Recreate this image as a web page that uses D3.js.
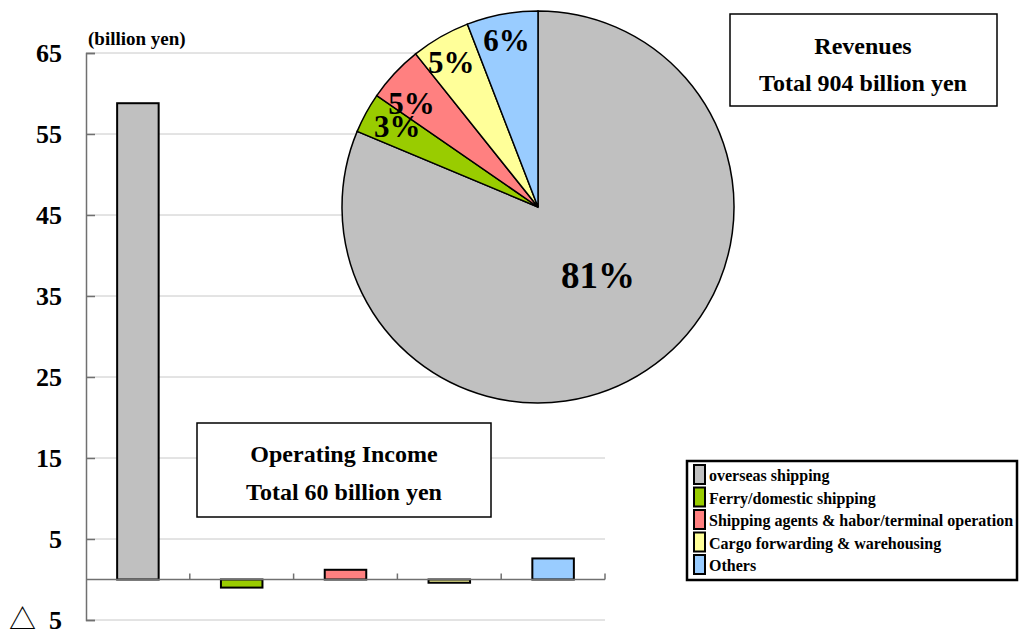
<!DOCTYPE html>
<html><head><meta charset="utf-8">
<script src="https://cdn.jsdelivr.net/npm/d3@7"></script>
<style>body{margin:0;background:#fff}svg{display:block}</style>
</head><body><svg id="c" width="1020" height="636" font-family="'Liberation Serif', 'Times New Roman', Times, 'DejaVu Serif', serif" font-weight="bold"></svg>
<script>
const categories = ["overseas shipping","Ferry/domestic shipping","Shipping agents & habor/terminal operation","Cargo forwarding & warehousing","Others"];
const colors = ["#c0c0c0","#99cc00","#ff8080","#ffff99","#99ccff"];
const operatingIncome = [58.8, -1.0, 1.2, -0.4, 2.6];
const revenues = [735, 30, 42, 44, 53];
const yTicks = [-5, 5, 15, 25, 35, 45, 55, 65];
const unitLabel = "(billion yen)";
const revTitle = ["Revenues", "Total 904 billion yen"];
const oiTitle = ["Operating Income", "Total 60 billion yen"];

const svg = d3.select("#c");
const x = d3.scaleBand().domain(categories).range([86, 605]).paddingInner(0.6).paddingOuter(0.3);
const xb = d3.scaleBand().domain(categories).range([86, 605]);
const y = d3.scaleLinear().domain([-5, 65]).range([620, 53]);

// grid
svg.append("g").selectAll("line").data(yTicks).join("line")
  .attr("x1", 86).attr("x2", 605).attr("y1", d => y(d)).attr("y2", d => y(d))
  .attr("stroke", "#c8c8c8").attr("stroke-width", 1);

// y axis
const yAxis = d3.axisRight(y).tickValues(yTicks).tickSize(9).tickFormat("");
const ga = svg.append("g").attr("transform", "translate(86,0)").call(yAxis);
ga.select(".domain").attr("stroke", "#707070").attr("stroke-width", 1.5);
ga.selectAll(".tick line").attr("stroke", "#707070").attr("stroke-width", 1.5);
const yl = svg.append("g").selectAll("text").data(yTicks).join("text")
  .attr("x", 62).attr("y", d => y(d) + 9).attr("text-anchor", "end")
  .attr("font-size", 26);
yl.filter(d => d < 0).append("tspan").attr("font-family", "'Noto Sans CJK JP', 'DejaVu Sans', sans-serif")
  .attr("font-weight", "normal").attr("font-size", 27).text("\u25B3");
yl.append("tspan").text(d => d < 0 ? "\u00A0\u00A0" + Math.abs(d) : d);

svg.append("text").attr("x", 88).attr("y", 45).attr("font-size", 19).text(unitLabel);

// bars
svg.append("g").selectAll("rect").data(operatingIncome).join("rect")
  .attr("x", (d, i) => x(categories[i])).attr("width", x.bandwidth())
  .attr("y", d => y(Math.max(0, d))).attr("height", d => Math.abs(y(d) - y(0)))
  .attr("fill", (d, i) => colors[i]).attr("stroke", "#000").attr("stroke-width", 2);

// zero axis
svg.append("line").attr("x1", 86).attr("x2", 605).attr("y1", y(0)).attr("y2", y(0))
  .attr("stroke", "#707070").attr("stroke-width", 1.5);
svg.append("g").selectAll("line").data(categories).join("line")
  .attr("x1", d => xb(d) + xb.bandwidth()).attr("x2", d => xb(d) + xb.bandwidth())
  .attr("y1", y(0)).attr("y2", y(0) - 6).attr("stroke", "#707070").attr("stroke-width", 1.5);

// operating income box
const ob = svg.append("g");
ob.append("rect").attr("x", 197).attr("y", 423).attr("width", 294).attr("height", 94)
  .attr("fill", "#fff").attr("stroke", "#000").attr("stroke-width", 1.5);
ob.selectAll("text").data(oiTitle).join("text").attr("x", 344).attr("y", (d, i) => 462 + i * 38)
  .attr("text-anchor", "middle").attr("font-size", 24).text(d => d);

// pie
const cx = 538, cy = 207, R = 196;
const pie = d3.pie().sort(null).value(d => d)(revenues);
const arc = d3.arc().innerRadius(0).outerRadius(R);
const pg = svg.append("g").attr("transform", `translate(${cx},${cy})`);
pg.selectAll("path").data(pie).join("path").attr("d", arc)
  .attr("fill", (d, i) => colors[i]).attr("stroke", "#000").attr("stroke-width", 1.5);
const total = d3.sum(revenues);
const lblArc = d3.arc().innerRadius(166).outerRadius(166);
const bigArc = d3.arc().innerRadius(92).outerRadius(92);
const nudge = [[9, -8], [5, 0], [-5, 10], [-4, 0], [-1, -3]];
pg.selectAll("text").data(pie).join("text")
  .attr("transform", (d, i) => {
    const c = (i === 0 ? bigArc : lblArc).centroid(d);
    return `translate(${c[0] + nudge[i][0]},${c[1] + nudge[i][1]})`;
  })
  .attr("text-anchor", "middle").attr("dy", (d, i) => i === 0 ? 12 : 10)
  .attr("font-size", (d, i) => i === 0 ? 37 : 31)
  .text(d => Math.round(d.value / total * 100) + "%");

// revenues box
const rb = svg.append("g");
rb.append("rect").attr("x", 730).attr("y", 14).attr("width", 267).attr("height", 92)
  .attr("fill", "#fff").attr("stroke", "#000").attr("stroke-width", 1.5);
rb.selectAll("text").data(revTitle).join("text").attr("x", 863).attr("y", (d, i) => 54 + i * 37)
  .attr("text-anchor", "middle").attr("font-size", 24).text(d => d);

// legend
const lg = svg.append("g");
lg.append("rect").attr("x", 687).attr("y", 461).attr("width", 330).attr("height", 119)
  .attr("fill", "#fff").attr("stroke", "#000").attr("stroke-width", 2.5);
const li = lg.selectAll("g").data(categories).join("g")
  .attr("transform", (d, i) => `translate(0,${465 + i * 22.5})`);
li.append("rect").attr("x", 694).attr("y", 0).attr("width", 11).attr("height", 19)
  .attr("fill", (d, i) => colors[i]).attr("stroke", "#000").attr("stroke-width", 2);
li.append("text").attr("x", 709).attr("y", 16).attr("font-size", 16).text(d => d);
</script></body></html>
